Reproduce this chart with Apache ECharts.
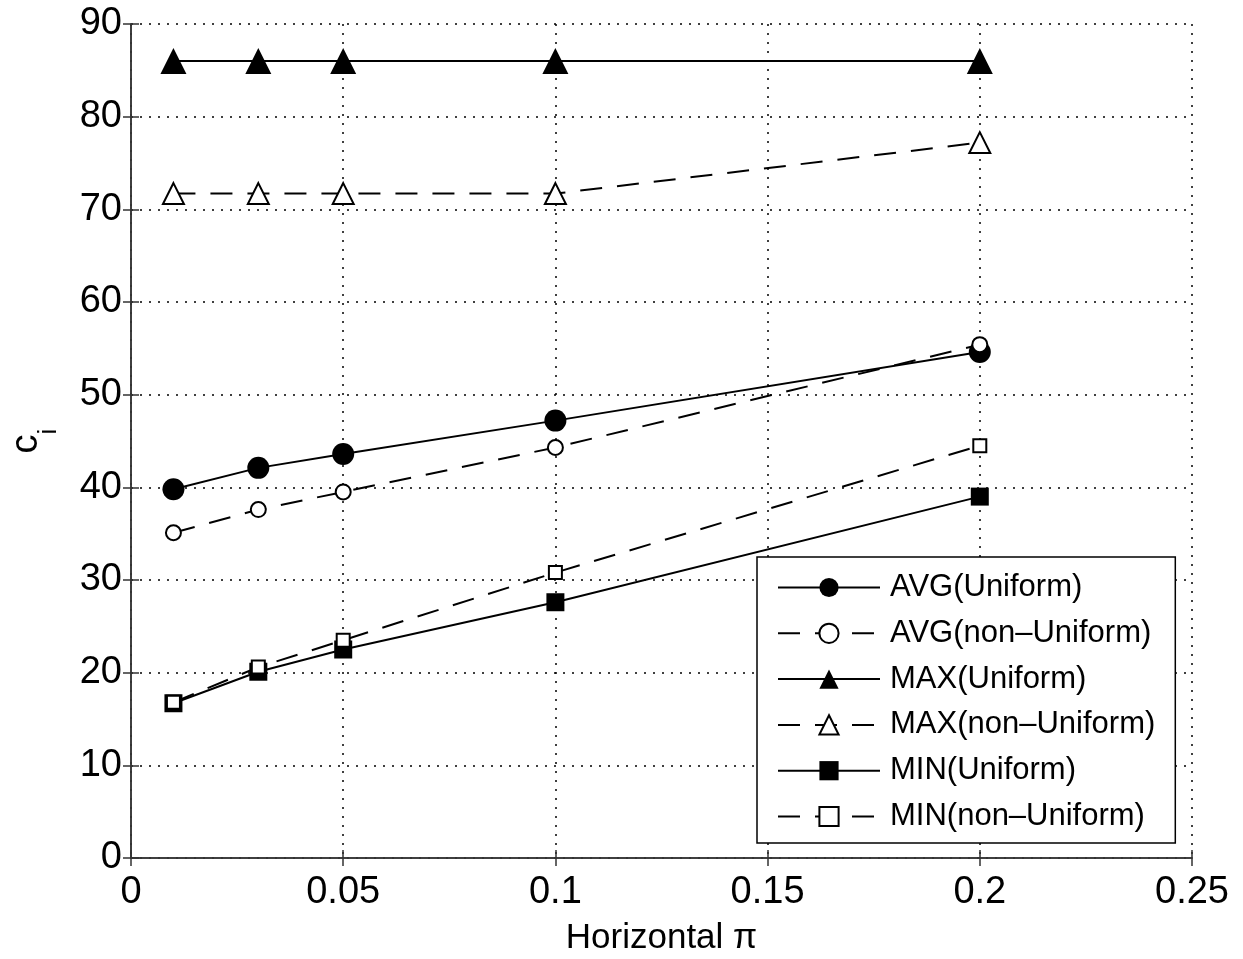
<!DOCTYPE html>
<html>
<head>
<meta charset="utf-8">
<script src="https://cdn.jsdelivr.net/npm/echarts@6/dist/echarts.min.js"></script>
<style>
html,body{margin:0;padding:0;background:#fff;}
#chart{width:1243px;height:959px;}
</style>
</head>
<body>
<div id="chart"></div>
<script>
const xValues = [0.01, 0.03, 0.05, 0.1, 0.2];
const avgUniform = [39.8, 42.1, 43.6, 47.2, 54.6];
const avgNonUniform = [35.1, 37.6, 39.5, 44.3, 55.4];
const maxUniform = [86.0, 86.0, 86.0, 86.0, 86.0];
const maxNonUniform = [71.7, 71.7, 71.7, 71.7, 77.2];
const minUniform = [16.7, 20.1, 22.5, 27.6, 39.0];
const minNonUniform = [16.8, 20.6, 23.5, 30.8, 44.5];
const seriesNames = ['AVG(Uniform)', 'AVG(non\u2013Uniform)', 'MAX(Uniform)', 'MAX(non\u2013Uniform)', 'MIN(Uniform)', 'MIN(non\u2013Uniform)'];

const FONT = '"Liberation Sans", Arial, sans-serif';
const pair = arr => xValues.map((x, i) => [x, arr[i]]);

function mk(name, data, dashed, symbol, size) {
  return {
    name: name,
    type: 'line',
    data: pair(data),
    symbol: symbol,
    symbolSize: size,
    showSymbol: true,
    lineStyle: { color: '#000', width: 2, type: dashed ? [22, 15] : 'solid' },
    itemStyle: { color: '#000', borderColor: '#000', borderWidth: symbol.indexOf('empty') === 0 ? 2.5 : 0 },
    emphasis: { disabled: true },
    animation: false
  };
}

const chart = echarts.init(document.getElementById('chart'), null, { renderer: 'canvas' });
const gridLine = { show: true, lineStyle: { color: '#000', width: 1.5, type: [2, 7] } };
const axisLine = { show: true, lineStyle: { color: '#333', width: 1.5 } };
const tick = { show: true, inside: true, length: 8, lineStyle: { color: '#333', width: 1.5 } };

chart.setOption({
  backgroundColor: '#fff',
  animation: false,
  grid: { left: 131, right: 51, top: 24, bottom: 101, outerBoundsMode: 'none', containLabel: false },
  xAxis: [{
    type: 'value', min: 0, max: 0.25, interval: 0.05,
    name: 'Horizontal \u03c0', nameLocation: 'middle', nameGap: 63,
    nameTextStyle: { fontFamily: FONT, fontSize: 35, color: '#000' },
    axisLine: axisLine, axisTick: tick, splitLine: gridLine,
    axisLabel: { fontFamily: FONT, fontSize: 38, color: '#000', margin: 16 }
  }, {
    type: 'value', position: 'top', min: 0, max: 0.25, interval: 0.05,
    axisLine: axisLine, axisTick: tick, splitLine: { show: false }, axisLabel: { show: false }
  }],
  yAxis: [{
    type: 'value', min: 0, max: 90, interval: 10,
    name: '{a|c}{b|i}', nameLocation: 'middle', nameGap: 69, nameRotate: 90,
    nameTextStyle: {
      color: '#000',
      rich: {
        a: { fontFamily: FONT, fontSize: 38, color: '#000', verticalAlign: 'bottom', padding: [0, 0, 16, 0] },
        b: { fontFamily: FONT, fontSize: 26, color: '#000', verticalAlign: 'bottom' }
      }
    },
    axisLine: axisLine, axisTick: tick, splitLine: gridLine,
    axisLabel: { fontFamily: FONT, fontSize: 38, color: '#000', margin: 9 }
  }, {
    type: 'value', position: 'right', min: 0, max: 90, interval: 10,
    axisLine: axisLine, axisTick: tick, splitLine: { show: false }, axisLabel: { show: false }
  }],
  legend: {
    orient: 'vertical',
    left: 757, top: 557,
    padding: [15, 20, 11, 20],
    backgroundColor: '#fff',
    borderColor: '#000', borderWidth: 1.5, borderRadius: 0,
    itemWidth: 102, itemHeight: 24, itemGap: 14.8,
    selectedMode: false,
    textStyle: { fontFamily: FONT, fontSize: 31, lineHeight: 30, color: '#000', padding: [0, 0, 0, 5] },
    data: seriesNames
  },
  series: [
    mk(seriesNames[0], avgUniform, false, 'circle', 22),
    mk(seriesNames[1], avgNonUniform, true, 'emptyCircle', 15),
    mk(seriesNames[2], maxUniform, false, 'triangle', 26),
    mk(seriesNames[3], maxNonUniform, true, 'emptyTriangle', 21),
    mk(seriesNames[4], minUniform, false, 'rect', 18),
    mk(seriesNames[5], minNonUniform, true, 'emptyRect', 13)
  ]
});
</script>
</body>
</html>
